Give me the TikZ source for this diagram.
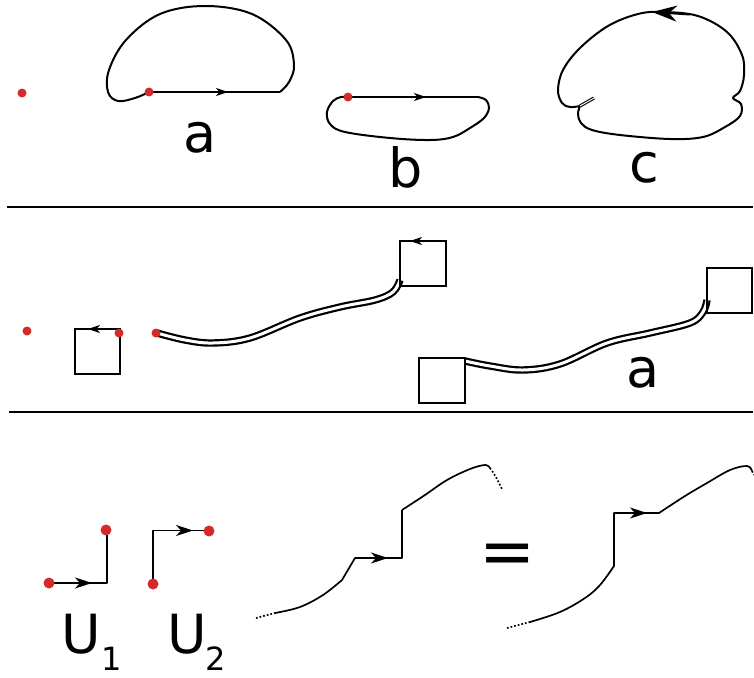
\documentclass[tikz,border=0pt]{standalone}
\usepackage{fontspec}
\setmainfont{DejaVu Sans}
\usetikzlibrary{arrows.meta}
\definecolor{dotred}{RGB}{212,42,42}
\begin{document}
\begin{tikzpicture}[x=1pt,y=-1pt,
  curve/.style={line width=2pt, line join=round},
  box/.style={line width=2.4pt, line join=miter},
  thinc/.style={line width=1.7pt, line join=round},
  sep/.style={line width=1.8pt},
  reddot/.style={circle, fill=dotred, draw=none, inner sep=0pt, minimum size=#1},
  reddot/.default=9pt,
  sarrow/.style={-{Stealth[length=12pt,width=8pt,inset=3.5pt]}},
  barrow/.style={-{Stealth[length=17pt,width=11pt,inset=5pt]}},
  carrow/.style={-{Stealth[length=25pt,width=16pt,inset=8pt]}},
  lbl/.style={font=\fontsize{54}{60}\selectfont, inner sep=0pt, anchor=base},
  eqlbl/.style={font=\fontsize{67}{70}\selectfont, inner sep=0pt, anchor=base},
  sublbl/.style={font=\fontsize{32}{36}\selectfont, inner sep=0pt, anchor=base},
  dbl/.style={line width=2.2pt, double=white, double distance=3pt}
]
\useasboundingbox (0,0) rectangle (754,677);

% ---------- separators
\draw[sep] (7,207) -- (753,207);
\draw[sep] (9,412) -- (753,412);

% ---------- top panel
\node[reddot] (p0) at (22,93) {};
% figure a
\draw[curve] plot[smooth, tension=0.6] coordinates {(280,92) (289,82) (294,65) (286,40) (252,14) (205,6) (160,14) (126,40) (109,70) (108,92) (118,101) (135,98) (149,92)};
\draw[curve] (149,92) -- (280,92);
\draw[curve, sarrow] (149,92) -- (228,92);
\node[reddot] (pa) at (149,92) {};
\node[lbl] (la) at (200,152) {a};
% figure b
\draw[curve] plot[smooth, tension=0.6] coordinates {(478,97) (486,100) (489,108) (484,118) (470,128) (453,137) (430,140) (390,138) (345,132) (330,124) (327,112) (333,101) (341,97) (348,97)};
\draw[curve] (348,97) -- (478,97);
\draw[curve, sarrow] (348,97) -- (426,97);
\node[reddot] (pb) at (348,97) {};
\node[lbl] (lb) at (406,187) {b};
% figure c
\draw[curve] plot[smooth, tension=0.6] coordinates {(580,106) (578,114) (581,123) (592,130) (620,135) (670,139) (703,137) (725,127) (740,116) (741,104) (733,98) (740,91) (744,75) (742,55) (727,32) (698,16) (663,12) (638,14) (608,26) (580,48) (563,70) (558,90) (562,103) (570,107) (580,106)};
\draw[line width=1.1pt, double=white, double distance=1pt] (580,106) -- (594,98);
\draw[curve, carrow] (690,14.5) -- (652,12);
\node[lbl] (lc) at (644,182) {c};

% ---------- middle panel
\node[reddot] (m0) at (27,331) {};
% first square with dot
\draw[box] (75,329) rectangle (120,374);
\draw[box, sarrow] (120,329) -- (88,329);
\node[reddot] (m1) at (119,333) {};
% double curve to square
\draw[dbl] plot[smooth, tension=0.6] coordinates {(157,333) (185,340) (213,343) (250,338) (300,318) (340,307) (375,300) (393,292) (400,280)};
\draw[box] (400,241) rectangle (446,286);
\draw[box, sarrow] (446,241) -- (410,241);
\node[reddot] (m2) at (156,333) {};
% right figure
\draw[dbl] plot[smooth, tension=0.6] coordinates {(465,361) (490,366) (523,370) (560,364) (607,343) (650,333) (690,323) (703,312) (707,300)};
\draw[box] (419,358) rectangle (465,403);
\draw[box] (707,268) rectangle (752,313);
\node[lbl] (lm) at (643,387) {a};

% ---------- bottom panel
% U1
\draw[thinc] (49,583) -- (107,583) -- (107,530);
\draw[thinc, barrow] (49,583) -- (92,583);
\node[reddot=11pt] (u1a) at (49,583) {};
\node[reddot=11pt] (u1b) at (106,530) {};
\node[lbl] (lu1) at (81.5,653) {U};
\node[sublbl] (su1) at (111.5,670) {1};
% U2
\draw[thinc] (153,584) -- (153,530.5) -- (209,530.5);
\draw[thinc, barrow] (153,530.5) -- (193,530.5);
\node[reddot=11pt] (u2a) at (153,584) {};
\node[reddot=11pt] (u2b) at (209,531) {};
\node[lbl] (lu2) at (187.5,653) {U};
\node[sublbl] (su2) at (216,670) {2};

% left composite curve
\draw[thinc, dotted] (256,618) -- (275,613);
\draw[thinc] plot[smooth, tension=0.6] coordinates {(275,613) (300,607) (323,595) (342,580)} -- (355,558) -- (402,558) -- (402,510)
  plot[smooth, tension=0.6] coordinates {(402,510) (425,495) (447,480) (470,469) (485,465) (490,468)};
\draw[thinc, barrow] (355,558) -- (388,558);
\draw[thinc, dotted] (490,468) .. controls (495,475) .. (502,489);

\node[eqlbl] (eq) at (507.5,574) {=};

% right composite curve
\draw[thinc, dotted] (507,628) -- (530,622);
\draw[thinc] plot[smooth, tension=0.6] coordinates {(530,622) (560,612) (585,598) (600,585) (614,566)} -- (614,513) -- (659,513)
  plot[smooth, tension=0.6] coordinates {(659,513) (685,496) (707,483) (730,470) (747,466) (752,471)};
\draw[thinc, barrow] (614,513) -- (647,513);
\draw[thinc, dotted] (752,471) -- (754,475);
\end{tikzpicture}
\end{document}
